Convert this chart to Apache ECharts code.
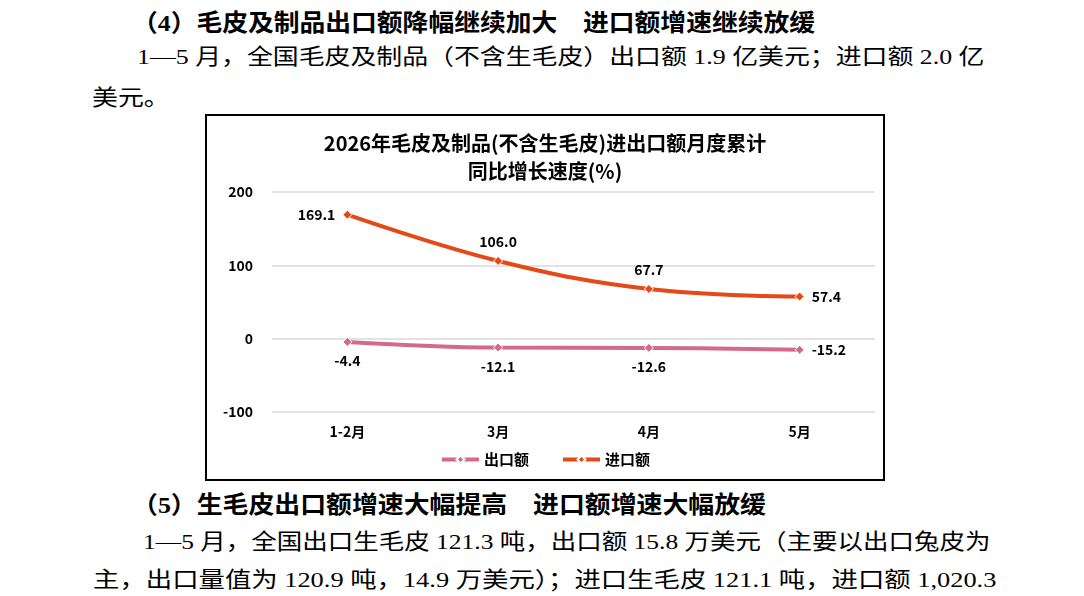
<!DOCTYPE html>
<html><head><meta charset="utf-8">
<script src="https://cdn.jsdelivr.net/npm/echarts@6/dist/echarts.min.js"></script>
<style>
html,body{margin:0;padding:0;background:#fff;width:1084px;height:596px;overflow:hidden;position:relative;}
.ln{position:absolute;white-space:nowrap;height:30px;line-height:30px;transform-origin:0 50%;color:#000;}
.hd{font-family:"Liberation Serif","Noto Sans CJK SC";font-weight:bold;font-size:24px;}
.hd .c{font-family:"Noto Sans CJK SC";}
.bd{font-family:"Liberation Serif","Noto Sans CJK SC";font-size:22px;}
#box{position:absolute;left:205px;top:114px;width:680px;height:367px;box-sizing:border-box;border:2px solid #000;}
#chart{width:100%;height:100%;}
</style></head>
<body>
<div class="ln hd" id="h4" data-l="132" data-r="815" style="top:6px">（4）<span class="c">毛皮及制品出口额降幅继续加大　进口额增速继续放缓</span></div>
<div class="ln bd" id="b1" data-l="137" data-r="985" style="top:42px">1—5 月，全国毛皮及制品（不含生毛皮）出口额 1.9 亿美元；进口额 2.0 亿</div>
<div class="ln bd" id="b2" data-l="92" data-ref="b1" style="top:83px">美元。</div>
<div class="ln hd" id="h5" data-l="132" data-r="766" style="top:488px">（5）<span class="c">生毛皮出口额增速大幅提高　进口额增速大幅放缓</span></div>
<div class="ln bd" id="b3" data-l="143" data-r="991" style="top:527px">1—5 月，全国出口生毛皮 121.3 吨，出口额 15.8 万美元（主要以出口兔皮为</div>
<div class="ln bd" id="b4" data-l="93" data-r="997" style="top:565px">主，出口量值为 120.9 吨，14.9 万美元）；进口生毛皮 121.1 吨，进口额 1,020.3</div>
<div id="box"><div id="chart"></div></div>
<script>
const categories = ['1-2月', '3月', '4月', '5月'];
const exportValues = [-4.4, -12.1, -12.6, -15.2];
const importValues = [169.1, 106.0, 67.7, 57.4];
const yTicks = { min: -100, max: 200, interval: 100 };
const seriesNames = ['出口额', '进口额'];
const titleText = '2026年毛皮及制品(不含生毛皮)进出口额月度累计\n同比增长速度(%)';

// fit text lines horizontally
const scales = {};
document.querySelectorAll('.ln').forEach(el => {
  const l = +el.dataset.l;
  el.style.left = l + 'px';
  let s = 1;
  if (el.dataset.r) {
    s = (+el.dataset.r - l) / el.scrollWidth;
  } else if (el.dataset.ref) {
    s = scales[el.dataset.ref] || 1;
  }
  scales[el.id] = s;
  el.style.transform = 'scaleX(' + s + ')';
});

const impPos = ['left', 'top', 'top', 'right'];
const expPos = ['bottom', 'bottom', 'bottom', 'right'];
const lblStyle = { show: true, color: '#000', fontWeight: 'bold', fontSize: 14, fontFamily: 'Noto Sans CJK SC', distance: 7 };

const chart = echarts.init(document.getElementById('chart'));
chart.setOption({
  animation: false,
  title: {
    text: titleText, left: 'center', top: 8,
    textStyle: { fontSize: 20, fontWeight: 'bold', color: '#000', lineHeight: 28, fontFamily: 'Noto Sans CJK SC' }
  },
  legend: {
    bottom: 7, left: 'center', itemWidth: 37, itemHeight: 10, itemGap: 32,
    lineStyle: { width: 4 },
    textStyle: { fontSize: 15, fontWeight: 'bold', color: '#000', fontFamily: 'Noto Sans CJK SC' },
    data: seriesNames
  },
  grid: { left: 65, right: 8, top: 76, height: 220 },
  xAxis: {
    type: 'category', data: categories, boundaryGap: true,
    axisLine: { show: false }, axisTick: { show: false },
    axisLabel: { color: '#000', fontWeight: 'bold', fontSize: 14, margin: 13, fontFamily: 'Noto Sans CJK SC' }
  },
  yAxis: {
    type: 'value', min: yTicks.min, max: yTicks.max, interval: yTicks.interval,
    axisLine: { show: false }, axisTick: { show: false },
    axisLabel: { color: '#000', fontWeight: 'bold', fontSize: 14, margin: 19, fontFamily: 'Noto Sans CJK SC' },
    splitLine: { lineStyle: { color: '#D9D9D9', width: 1.5 } }
  },
  series: [
    {
      name: seriesNames[0], type: 'line', smooth: 0.4,
      symbol: 'diamond', symbolSize: 9,
      itemStyle: { color: '#D4698F', borderColor: '#fff', borderWidth: 1 },
      lineStyle: { color: '#D4698F', width: 4 },
      data: exportValues.map((v, i) => ({ value: v, label: Object.assign({}, lblStyle, { position: expPos[i], formatter: p => p.value.toFixed(1) }) }))
    },
    {
      name: seriesNames[1], type: 'line', smooth: 0.4,
      symbol: 'diamond', symbolSize: 9,
      itemStyle: { color: '#E34A16', borderColor: '#fff', borderWidth: 1 },
      lineStyle: { color: '#E34A16', width: 4 },
      data: importValues.map((v, i) => ({ value: v, label: Object.assign({}, lblStyle, { position: impPos[i], formatter: p => p.value.toFixed(1) }) }))
    }
  ]
});
</script>
</body></html>
